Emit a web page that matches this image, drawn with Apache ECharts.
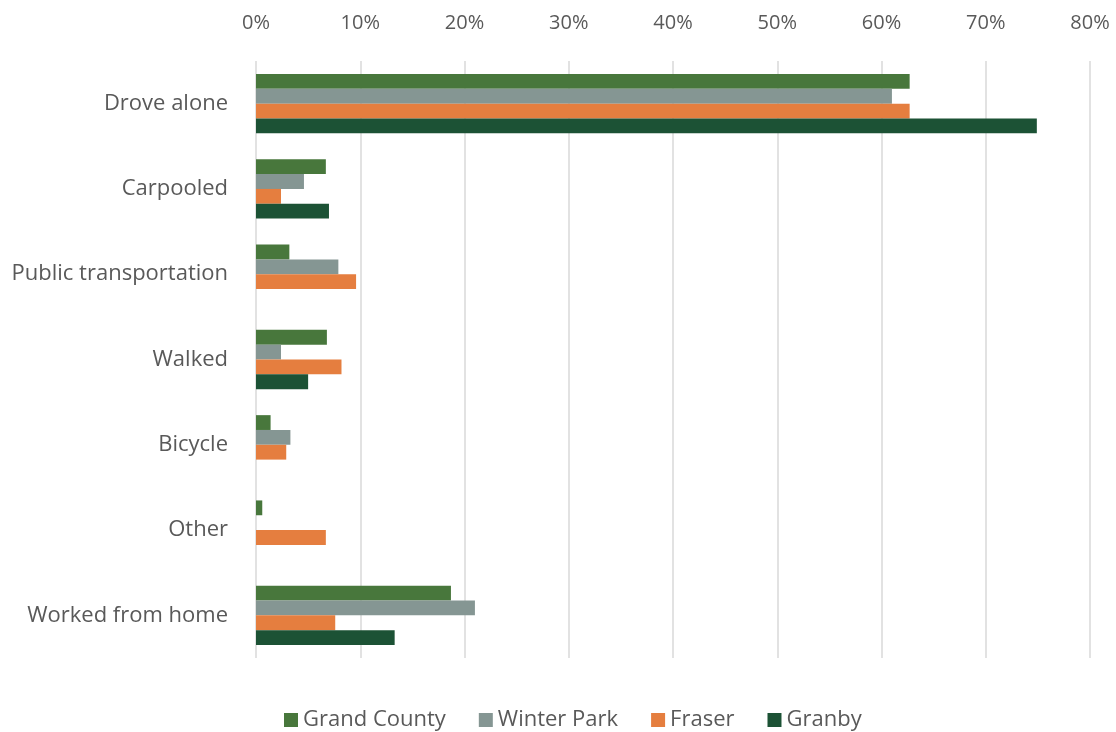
<!DOCTYPE html>
<html>
<head>
<meta charset="utf-8">
<script src="https://cdn.jsdelivr.net/npm/echarts@6/dist/echarts.min.js"></script>
<style>
  html, body { margin: 0; padding: 0; background: #fff; }
  #chart { width: 1116px; height: 732px; }
</style>
</head>
<body>
<div id="chart"></div>
<script>
// Means of transportation to work, share of workers (%)
const categories = ['Drove alone', 'Carpooled', 'Public transportation', 'Walked', 'Bicycle', 'Other', 'Worked from home'];
const grandCounty = [62.7, 6.7, 3.2, 6.8, 1.4, 0.6, 18.7];
const winterPark  = [61.0, 4.6, 7.9, 2.4, 3.3, 0,   21.0];
const fraser      = [62.7, 2.4, 9.6, 8.2, 2.9, 6.7, 7.6];
const granby      = [74.9, 7.0, 0,   5.0, 0,   0,   13.3];
const seriesNames = ['Grand County', 'Winter Park', 'Fraser', 'Granby'];
const seriesColors = ['#48773C', '#859693', '#E57E3F', '#1C5235'];
const seriesData = [grandCounty, winterPark, fraser, granby];

const textColor = '#595959';
const fontFamily = '"Open Sans", "Noto Sans", sans-serif';

const chart = echarts.init(document.getElementById('chart'));
chart.setOption({
  animation: false,
  textStyle: { fontFamily: fontFamily },
  grid: { left: 256, right: 26, top: 61, bottom: 74, containLabel: false },
  xAxis: {
    type: 'value',
    position: 'top',
    min: 0,
    max: 80,
    interval: 10,
    axisLine: { show: false },
    axisTick: { show: false },
    axisLabel: { formatter: '{value}%', color: textColor, fontSize: 20, margin: 28, fontFamily: fontFamily },
    splitLine: { lineStyle: { color: '#D9D9D9', width: 1.5 } }
  },
  yAxis: {
    type: 'category',
    inverse: true,
    data: categories,
    axisLine: { show: false },
    axisTick: { show: false },
    axisLabel: { color: textColor, fontSize: 22, margin: 28, fontFamily: fontFamily }
  },
  legend: {
    top: 704,
    left: 279,
    itemWidth: 14,
    itemHeight: 14,
    itemGap: 33,
    icon: 'rect',
    textStyle: { color: textColor, fontSize: 22, fontFamily: fontFamily },
    data: seriesNames
  },
  series: seriesNames.map((name, i) => ({
    name: name,
    type: 'bar',
    data: seriesData[i],
    barGap: '0%',
    barCategoryGap: '30.5%',
    itemStyle: { color: seriesColors[i] }
  }))
});
</script>
</body>
</html>
